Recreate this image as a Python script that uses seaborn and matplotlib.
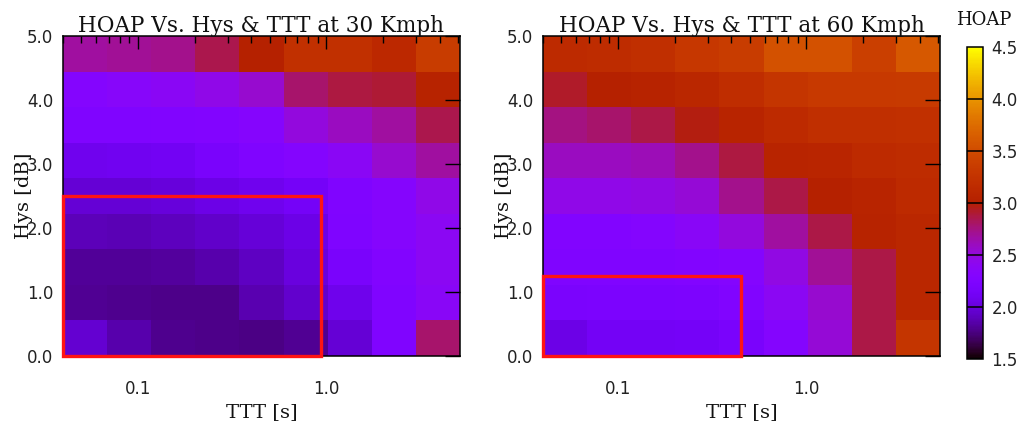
import numpy as np
import pandas as pd
import matplotlib
matplotlib.use("Agg")
import matplotlib.pyplot as plt
import seaborn as sns
from matplotlib.patches import Rectangle
from matplotlib.ticker import FixedLocator, LogLocator, NullFormatter, FixedFormatter

# ---------------- data ----------------
TTT_RANGE = [0.04, 5.12]      # s, log axis
HYS_RANGE = [0.0, 5.0]        # dB
X_MAJOR = [0.1, 1.0]
X_MAJOR_LABELS = ["0.1", "1.0"]
Y_TICKS = [0, 1, 2, 3, 4, 5]
Y_TICK_LABELS = ["0.0", "1.0", "2.0", "3.0", "4.0", "5.0"]
CBAR_TICKS = [1.5, 2.0, 2.5, 3.0, 3.5, 4.0, 4.5]
VMIN, VMAX = 1.5, 4.5

TITLE_30 = "HOAP Vs. Hys & TTT at 30 Kmph"
TITLE_60 = "HOAP Vs. Hys & TTT at 60 Kmph"

# rows: top (high Hys) -> bottom (low Hys); columns: low TTT -> high TTT
HOAP_30 = [
    [2.68, 2.70, 2.72, 2.85, 3.02, 3.22, 3.22, 3.12, 3.35],
    [2.30, 2.35, 2.38, 2.45, 2.55, 2.80, 2.88, 2.90, 3.05],
    [2.25, 2.25, 2.27, 2.28, 2.32, 2.50, 2.60, 2.68, 2.85],
    [2.08, 2.09, 2.12, 2.18, 2.25, 2.30, 2.38, 2.55, 2.68],
    [1.98, 1.97, 2.00, 2.04, 2.08, 2.14, 2.25, 2.32, 2.45],
    [1.89, 1.88, 1.90, 1.94, 1.99, 2.04, 2.24, 2.31, 2.40],
    [1.81, 1.81, 1.82, 1.86, 1.92, 2.01, 2.19, 2.28, 2.40],
    [1.80, 1.79, 1.77, 1.78, 1.87, 1.95, 2.07, 2.25, 2.37],
    [1.96, 1.86, 1.79, 1.77, 1.76, 1.80, 1.97, 2.25, 2.80],
]
HOAP_60 = [
    [3.15, 3.17, 3.20, 3.30, 3.35, 3.55, 3.55, 3.38, 3.60],
    [2.92, 3.02, 3.05, 3.10, 3.18, 3.27, 3.32, 3.32, 3.33],
    [2.75, 2.80, 2.87, 2.97, 3.07, 3.15, 3.20, 3.20, 3.22],
    [2.60, 2.60, 2.62, 2.72, 2.88, 3.07, 3.08, 3.15, 3.17],
    [2.45, 2.46, 2.48, 2.53, 2.72, 2.87, 3.02, 3.06, 3.15],
    [2.28, 2.28, 2.30, 2.37, 2.50, 2.68, 2.87, 3.05, 3.10],
    [2.25, 2.25, 2.26, 2.28, 2.30, 2.48, 2.70, 2.87, 3.10],
    [2.20, 2.21, 2.21, 2.22, 2.27, 2.40, 2.55, 2.86, 3.10],
    [2.05, 2.13, 2.13, 2.14, 2.18, 2.30, 2.52, 2.87, 3.28],
]
# highlight boxes: (TTT_min, TTT_max, Hys_min, Hys_max)
BOX_30 = [0.04, 0.94, 0.0, 2.5]
BOX_60 = [0.04, 0.45, 0.0, 1.25]

# ---------------- style ----------------
sns.set_style("white")
SERIF = ["DejaVu Serif"]
SANS = ["DejaVu Sans"]
plt.rcParams["font.family"] = SANS

W, H = 1024, 428
fig = plt.figure(figsize=(W / 100, H / 100), dpi=100)

def fpos(x0, y0, x1, y1):
    return [x0 / W, (H - y1) / H, (x1 - x0) / W, (y1 - y0) / H]

POS_L = fpos(63, 36, 460, 356)
POS_R = fpos(543, 36, 940, 356)
POS_C = fpos(967, 47, 983, 359)

cax = fig.add_axes(POS_C)


def panel(pos, data, title, box, cbar):
    ax = fig.add_axes(pos)
    df = pd.DataFrame(data)
    sns.heatmap(df, ax=ax, cmap="gnuplot", vmin=VMIN, vmax=VMAX,
                xticklabels=False, yticklabels=False,
                cbar=cbar, cbar_ax=cax if cbar else None)
    ax.set_xticks([]); ax.set_yticks([])
    ax.set_xlabel(""); ax.set_ylabel("")
    for s in ax.spines.values():
        s.set_visible(False)

    ov = fig.add_axes(pos, facecolor="none")
    ov.set_xscale("log")
    ov.set_xlim(TTT_RANGE)
    ov.set_ylim(HYS_RANGE)
    ov.xaxis.set_major_locator(FixedLocator(X_MAJOR))
    ov.xaxis.set_major_formatter(FixedFormatter(X_MAJOR_LABELS))
    ov.xaxis.set_minor_locator(LogLocator(base=10, subs=np.arange(2, 10)))
    ov.xaxis.set_minor_formatter(NullFormatter())
    ov.yaxis.set_major_locator(FixedLocator(Y_TICKS))
    ov.yaxis.set_major_formatter(FixedFormatter(Y_TICK_LABELS))
    ov.tick_params(axis="both", which="both", direction="in", top=True, right=True,
                   color="black", width=1.0)
    ov.tick_params(axis="x", which="major", length=9.5, pad=17, labelsize=12,
                   labelcolor="#222222")
    ov.tick_params(axis="x", which="minor", length=5)
    ov.tick_params(axis="y", which="major", length=10.5, pad=7, labelsize=12,
                   labelcolor="#222222")
    for s in ov.spines.values():
        s.set_visible(True)
        s.set_color("black")
        s.set_linewidth(1.1)
    ov.set_title(title, family=SERIF, fontsize=15.5, pad=3, color="#111111")
    ov.set_xlabel("TTT [s]", family=SERIF, fontsize=14, labelpad=4, color="#111111")
    ov.set_ylabel("Hys [dB]", family=SERIF, fontsize=14, color="#111111")
    ov.yaxis.set_label_coords(-0.075, 0.5)
    x0, x1, y0, y1 = box
    ov.add_patch(Rectangle((x0, y0), x1 - x0, y1 - y0, fill=False,
                           edgecolor="#ff1414", linewidth=2.4, clip_on=False, zorder=5))
    return ax, ov


panel(POS_L, HOAP_30, TITLE_30, BOX_30, cbar=False)
ax_r, ov_r = panel(POS_R, HOAP_60, TITLE_60, BOX_60, cbar=True)

cb = ax_r.collections[0].colorbar
cb.set_ticks(CBAR_TICKS)
cb.set_ticklabels([f"{v:.1f}" for v in CBAR_TICKS])
cb.outline.set_edgecolor("black")
cb.outline.set_linewidth(1.1)
cax.tick_params(length=0, pad=6, labelsize=12, labelcolor="#222222")
for v in CBAR_TICKS[1:-1]:
    cax.axhline(v, color="black", linewidth=1.1)
fig.text(984 / W, (H - 20) / H, "HOAP", family=SERIF, fontsize=13,
         ha="center", va="center", color="#111111")

fig.savefig("out.png", dpi=100)
